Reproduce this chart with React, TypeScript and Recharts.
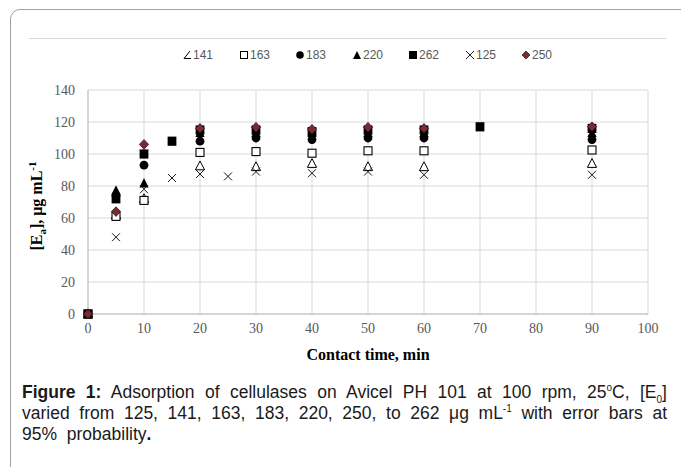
import React from 'react';
import { ScatterChart, Scatter, XAxis, YAxis, CartesianGrid } from 'recharts';

const timesMain = [0, 5, 10, 20, 30, 40, 50, 60, 90];
const times125 = [0, 5, 10, 15, 20, 25, 30, 40, 50, 60, 90];
const times262 = [0, 5, 10, 15, 20, 30, 40, 50, 60, 70, 90];

const values141 = [0, 62, 72, 92.5, 92, 94, 92, 92, 94];
const values163 = [0, 61, 71, 101, 101.5, 100.5, 102, 102, 102.5];
const values183 = [0, 74, 93, 108, 110, 109, 110, 110, 109];
const values220 = [0, 77, 81.5, 113, 113, 113, 113, 113, 113];
const values262 = [0, 72, 100, 108, 115, 115, 114, 115, 115, 117, 116];
const values125 = [0, 48, 78, 85, 87.5, 86, 89, 88, 89, 87, 87];
const values250 = [0, 64, 106, 116, 116.7, 115.4, 116.7, 116, 117];

const xTicks = [0, 10, 20, 30, 40, 50, 60, 70, 80, 90, 100];
const yTicks = [0, 20, 40, 60, 80, 100, 120, 140];

const seriesNames = ['141', '163', '183', '220', '262', '125', '250'];

const toPoints = (xs: number[], ys: number[]) => xs.map((x, i) => ({ x, y: ys[i] }));

type Kind = 'otri' | 'osq' | 'circ' | 'tri' | 'sq' | 'x' | 'dia';

const SERIF = '"Liberation Serif", "Times New Roman", serif';
const SANS = '"Liberation Sans", Arial, sans-serif';

const drawMarker = (kind: Kind, cx: number, cy: number) => {
  switch (kind) {
    case 'otri':
      return <path d={`M${cx},${cy - 5}L${cx + 4.6},${cy + 3.8}L${cx - 4.6},${cy + 3.8}Z`} fill="#fff" stroke="#000" strokeWidth={1} />;
    case 'osq':
      return <rect x={cx - 4} y={cy - 4} width={8} height={8} fill="#fff" stroke="#000" strokeWidth={1.1} />;
    case 'circ':
      return <circle cx={cx} cy={cy} r={4.4} fill="#000" />;
    case 'tri':
      return <path d={`M${cx},${cy - 5.5}L${cx + 4.6},${cy + 3.8}L${cx - 4.6},${cy + 3.8}Z`} fill="#000" />;
    case 'sq':
      return <rect x={cx - 4.4} y={cy - 4.6} width={8.8} height={9.2} fill="#000" />;
    case 'x':
      return (
        <g stroke="#1a1a1a" strokeWidth={1}>
          <line x1={cx - 4} y1={cy - 4} x2={cx + 4} y2={cy + 4} />
          <line x1={cx - 4} y1={cy + 4} x2={cx + 4} y2={cy - 4} />
        </g>
      );
    case 'dia':
      return <path d={`M${cx},${cy - 4.8}L${cx + 4.6},${cy}L${cx},${cy + 4.8}L${cx - 4.6},${cy}Z`} fill="#7a2a33" stroke="#2b1012" strokeWidth={0.8} />;
  }
  return null;
};

const shapeFor = (kind: Kind) => (props: any) => {
  const { cx, cy } = props;
  if (cx == null || cy == null) return <g />;
  return <g>{drawMarker(kind, cx, cy)}</g>;
};

const XTick = (props: any) => {
  const { x, y, payload } = props;
  return (
    <text x={x} y={y} dy={11} textAnchor="middle" fontFamily={SERIF} fontSize={14} fill="#595959">
      {payload.value}
    </text>
  );
};

const YTick = (props: any) => {
  const { x, y, payload } = props;
  return (
    <text x={x - 1} y={y} dy={5} textAnchor="end" fontFamily={SERIF} fontSize={14} fill="#595959">
      {payload.value}
    </text>
  );
};

const legendKinds: Kind[] = ['otri', 'osq', 'circ', 'tri', 'sq', 'x', 'dia'];
const legendX = [182, 239, 295, 352, 408, 465, 521];

const LegendIcon = ({ kind }: { kind: Kind }) => {
  if (kind === 'otri') {
    return (
      <svg width={10} height={10} style={{ verticalAlign: 'middle' }}>
        <path d="M8,1L2,8.5L9,8.5" fill="none" stroke="#000" strokeWidth={1} />
      </svg>
    );
  }
  const m: Record<string, React.ReactNode> = {
    osq: <rect x={1.5} y={1.5} width={7} height={7} fill="#fff" stroke="#000" strokeWidth={1} />,
    circ: <circle cx={5} cy={5} r={3.8} fill="#000" />,
    tri: <path d="M5,1L9,9L1,9Z" fill="#000" />,
    sq: <rect x={1} y={1} width={8} height={8} fill="#000" />,
    x: (
      <g stroke="#222" strokeWidth={1}>
        <line x1={1} y1={1} x2={9} y2={9} />
        <line x1={1} y1={9} x2={9} y2={1} />
      </g>
    ),
    dia: <path d="M5,1L9,5L5,9L1,5Z" fill="#7a2a33" stroke="#2b1012" strokeWidth={0.7} />,
  };
  return (
    <svg width={10} height={10} style={{ verticalAlign: 'middle' }}>
      {m[kind]}
    </svg>
  );
};

const captionLine: React.CSSProperties = {
  position: 'absolute',
  left: 22,
  width: 645,
  fontFamily: SANS,
  fontSize: 17.5,
  lineHeight: '21px',
  color: '#1a1a1a',
  whiteSpace: 'nowrap',
};

export default function App() {
  const supStyle: React.CSSProperties = { fontSize: 10, lineHeight: 0, verticalAlign: 'super' };
  const subStyle: React.CSSProperties = { fontSize: 10, lineHeight: 0, verticalAlign: 'sub' };
  return (
    <div style={{ position: 'absolute', left: 0, top: 0, width: 681, height: 467, overflow: 'hidden', background: '#fff' }}>
      {/* outer frame */}
      <div
        style={{
          position: 'absolute',
          left: 10,
          top: 9,
          width: 720,
          height: 520,
          border: '1.5px solid #a0a0a0',
          borderRadius: 10,
          boxSizing: 'border-box',
        }}
      />
      {/* chart area top border */}
      <div style={{ position: 'absolute', left: 29, top: 38, width: 637, height: 1, background: '#d9d9d9' }} />

      {/* legend */}
      {seriesNames.map((n, i) => (
        <div
          key={n}
          style={{
            position: 'absolute',
            left: legendX[i],
            top: 47,
            height: 16,
            display: 'flex',
            alignItems: 'center',
            gap: 1,
            fontFamily: SANS,
            fontSize: 12,
            color: '#595959',
            whiteSpace: 'nowrap',
          }}
        >
          <LegendIcon kind={legendKinds[i]} />
          <span>{n}</span>
        </div>
      ))}

      <div style={{ position: 'absolute', left: 0, top: 0 }}>
        <ScatterChart width={681} height={467} margin={{ top: 90, right: 33, bottom: 123, left: 28 }}>
          <CartesianGrid stroke="#d9d9d9" strokeWidth={1} verticalValues={xTicks} horizontalValues={yTicks} />
          <XAxis
            type="number"
            dataKey="x"
            domain={[0, 100]}
            ticks={xTicks}
            interval={0}
            height={30}
            tickLine={false}
            tickMargin={2}
            axisLine={{ stroke: '#bfbfbf' }}
            tick={<XTick />}
          />
          <YAxis
            type="number"
            dataKey="y"
            domain={[0, 140]}
            ticks={yTicks}
            interval={0}
            width={60}
            tickLine={false}
            tickMargin={6}
            axisLine={{ stroke: '#bfbfbf' }}
            tick={<YTick />}
          />
          <Scatter name="141" data={toPoints(timesMain, values141)} shape={shapeFor('otri')} isAnimationActive={false} />
          <Scatter name="163" data={toPoints(timesMain, values163)} shape={shapeFor('osq')} isAnimationActive={false} />
          <Scatter name="183" data={toPoints(timesMain, values183)} shape={shapeFor('circ')} isAnimationActive={false} />
          <Scatter name="220" data={toPoints(timesMain, values220)} shape={shapeFor('tri')} isAnimationActive={false} />
          <Scatter name="262" data={toPoints(times262, values262)} shape={shapeFor('sq')} isAnimationActive={false} />
          <Scatter name="125" data={toPoints(times125, values125)} shape={shapeFor('x')} isAnimationActive={false} />
          <Scatter name="250" data={toPoints(timesMain, values250)} shape={shapeFor('dia')} isAnimationActive={false} />
        </ScatterChart>
      </div>

      {/* axis titles */}
      <svg style={{ position: 'absolute', left: 0, top: 0 }} width={681} height={467} pointerEvents="none">
        <text x={368} y={360} textAnchor="middle" fontFamily={SERIF} fontWeight="bold" fontSize={16} fill="#000">
          Contact time, min
        </text>
        <text
          transform="translate(42,206) rotate(-90)"
          textAnchor="middle"
          fontFamily={SERIF}
          fontWeight="bold"
          fontSize={16}
          fill="#000"
        >
          [E
          <tspan fontSize={11} dy={4}>a</tspan>
          <tspan dy={-4}>], μg mL</tspan>
          <tspan fontSize={11} dy={-6}>-1</tspan>
        </text>
      </svg>

      {/* caption */}
      <div style={{ ...captionLine, top: 382, textAlign: 'justify', textAlignLast: 'justify' }}>
        <b>Figure 1:</b> Adsorption of cellulases on Avicel PH 101 at 100 rpm, 25<span style={supStyle}>o</span>C, [E<span style={subStyle}>0</span>]
      </div>
      <div style={{ ...captionLine, top: 403, textAlign: 'justify', textAlignLast: 'justify' }}>
        varied from 125, 141, 163, 183, 220, 250, to 262 μg mL<span style={supStyle}>-1</span> with error bars at
      </div>
      <div style={{ ...captionLine, top: 424 }}>
        95%&nbsp; probability<b>.</b>
      </div>
    </div>
  );
}
